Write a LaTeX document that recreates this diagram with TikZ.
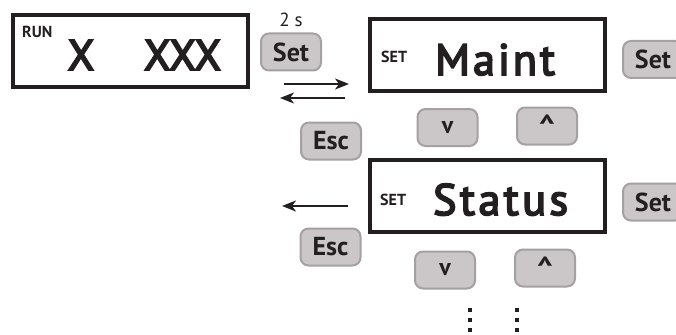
\documentclass[tikz,border=0pt]{standalone}
\usepackage{fontspec}
\setmainfont{PT Sans}
\newfontfamily\medfont{PT Sans}[FakeBold=4]
\usetikzlibrary{arrows.meta}
\definecolor{btnfill}{HTML}{CBC7C8}
\definecolor{btnedge}{HTML}{A5A1A2}
\definecolor{ink}{HTML}{231F20}
\tikzset{
  lcd/.style={draw=ink, line width=4.5pt, minimum width=235pt, minimum height=72pt, inner sep=0pt},
  btn/.style={draw=btnedge, fill=btnfill, line width=2pt, rounded corners=8pt,
    minimum width=60pt, minimum height=37pt, inner sep=0pt, text=ink,
    font=\fontsize{26}{26}\selectfont\bfseries},
  smallbtn/.style={btn, font=\fontsize{24}{24}\selectfont\bfseries},
  big/.style={inner sep=0pt, anchor=base west, text=ink, font=\fontsize{43}{43}\medfont},
  tag/.style={inner sep=0pt, anchor=base west, text=ink, font=\fontsize{16}{16}\selectfont\bfseries},
  flow/.style={draw=ink, line width=1.5pt, -{Stealth[length=14pt,width=11pt,inset=4pt]}},
  dot/.style={fill=ink, minimum size=4.5pt, inner sep=0pt}
}
\begin{document}
\begin{tikzpicture}[x=1pt,y=-1pt]
\useasboundingbox (0,0) rectangle (676,334);
% displays
\node[lcd] (run) at (130.5,51) {};
\node[lcd] (maint) at (487.5,55) {};
\node[lcd] (status) at (487.5,196) {};
% texts in displays
\node[tag] (runtag) at (22,38) {RUN};
\node[big, anchor=base] (x1) at (81,70) {X};
\node[big, anchor=base] (x3) at (182.5,70) {XXX};
\node[tag] (settag1) at (381,63) {SET};
\node[big, font=\fontsize{44}{44}\medfont\addfontfeatures{LetterSpace=7}] (mainttxt) at (435,75) {Maint};
\node[tag] (settag2) at (380,205) {SET};
\node[big, font=\fontsize{44}{44}\medfont\addfontfeatures{LetterSpace=8}] (statustxt) at (433,215) {Status};
% buttons
\node[btn] (set1) at (291,52) {Set};
\node[inner sep=0pt, anchor=base, text=ink, font=\fontsize{19}{19}\selectfont] (twos) at (291,27) {2 s};
\node[btn] (esc1) at (331,141) {Esc};
\node[btn] (set2) at (653,59.5) {Set};
\node[btn] (set3) at (653,202) {Set};
\node[btn] (esc2) at (330.5,247) {Esc};
\node[smallbtn] (dn1) at (447.5,127.5) {v};
\node[smallbtn] (up1) at (547,126) {\raisebox{-0.42em}{\fontsize{32}{32}\selectfont\textasciicircum}};
\node[smallbtn] (dn2) at (445,270) {v};
\node[smallbtn] (up2) at (545,268) {\raisebox{-0.42em}{\fontsize{32}{32}\selectfont\textasciicircum}};
% arrows
\coordinate (a1s) at (284,84);
\coordinate (a1e) at (349,84);
\coordinate (a2s) at (345,98);
\coordinate (a2e) at (280,98);
\coordinate (a3s) at (348,206);
\coordinate (a3e) at (282,206);
\draw[flow] (a1s) -- (a1e);
\draw[flow] (a2s) -- (a2e);
\draw[flow] (a3s) -- (a3e);
% continuation dots
\foreach \yy [count=\i] in {310,320,330}{
  \node[dot] (dl\i) at (470,\yy) {};
  \node[dot] (dr\i) at (517,\yy) {};
}
\end{tikzpicture}
\end{document}
